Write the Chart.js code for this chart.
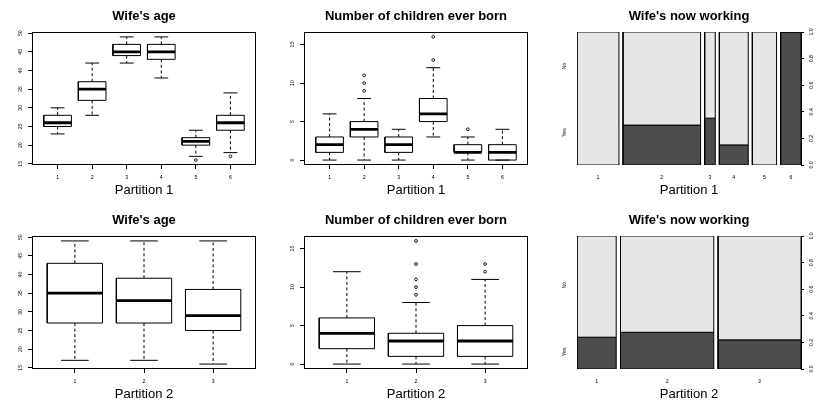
<!DOCTYPE html>
<html><head><meta charset="utf-8">
<script src="https://cdn.jsdelivr.net/npm/chart.js@4.4.0/dist/chart.umd.min.js"></script>
<style>
html,body{margin:0;padding:0;background:#fff;width:817px;height:409px;overflow:hidden}
.p{position:absolute;width:272px;height:204px}
canvas{display:block}
</style></head><body>
<div class="p" style="left:0;top:0"><canvas id="c1" width="272" height="204"></canvas></div>
<div class="p" style="left:272px;top:0"><canvas id="c2" width="272" height="204"></canvas></div>
<div class="p" style="left:545px;top:0"><canvas id="c3" width="272" height="204"></canvas></div>
<div class="p" style="left:0;top:204px"><canvas id="c4" width="272" height="204"></canvas></div>
<div class="p" style="left:272px;top:204px"><canvas id="c5" width="272" height="204"></canvas></div>
<div class="p" style="left:545px;top:204px"><canvas id="c6" width="272" height="204"></canvas></div>
<script>
// ---------- data ----------
const part1Cats = ['1','2','3','4','5','6'];
const part2Cats = ['1','2','3'];
const ageTicks = [15,20,25,30,35,40,45,50];
const childTicks = [0,5,10,15];
const propTicks = [0,0.2,0.4,0.6,0.8,1.0];
const workLevels = ['Yes','No'];

// Partition 1 - Wife's age
const age1Lo  = [23,28,42,38,17,18];
const age1Q1  = [25,32,44,43,20,24];
const age1Med = [26,35,45,45,21,26];
const age1Q3  = [28,37,47,47,22,28];
const age1Hi  = [30,42,49,49,24,34];
const age1Out = [[],[],[],[],[16],[17]];

// Partition 1 - Number of children ever born
const kids1Lo  = [0,0,0,3,0,0];
const kids1Q1  = [1,3,1,5,1,0];
const kids1Med = [2,4,2,6,1,1];
const kids1Q3  = [3,5,3,8,2,2];
const kids1Hi  = [6,8,4,12,3,4];
const kids1Out = [[],[9,10,11],[],[13,16],[4],[]];

// Partition 1 - Wife's now working (spineplot)
const work1Width = [0.206,0.381,0.052,0.142,0.119,0.100];
const work1Yes   = [0,0.30,0.352,0.151,0,1.0];
const work1LabelAt = [0.245,0.745];

// Partition 2 - Wife's age
const age2Lo  = [17,17,16];
const age2Q1  = [27,27,25];
const age2Med = [35,33,29];
const age2Q3  = [43,39,36];
const age2Hi  = [49,49,49];
const age2Out = [[],[],[]];

// Partition 2 - Number of children ever born
const kids2Lo  = [0,0,0];
const kids2Q1  = [2,1,1];
const kids2Med = [4,3,3];
const kids2Q3  = [6,4,5];
const kids2Hi  = [12,8,11];
const kids2Out = [[],[9,10,11,13,16],[12,13]];

// Partition 2 - Wife's now working (spineplot)
const work2Width = [0.182,0.433,0.385];
const work2Yes   = [0.239,0.276,0.219];
const work2LabelAt = [0.13,0.63];

// ---------- styling helpers ----------
const FONT = "'Liberation Sans', Arial, Helvetica, sans-serif";
Chart.defaults.color = '#000';
Chart.defaults.font.family = FONT;

const framePlugin = {
  id: 'frame',
  afterDatasetsDraw(chart, args, opts) {
    if (!opts || !opts.on) return;
    const a = chart.chartArea, c = chart.ctx;
    c.save();
    c.strokeStyle = '#000'; c.lineWidth = 1;
    c.strokeRect(Math.round(a.left)+0.5, Math.round(a.top)+0.5,
                 Math.round(a.right)-Math.round(a.left)-1, Math.round(a.bottom)-Math.round(a.top)-1);
    c.restore();
  }
};

function titleOpts(text) {
  return { display: true, text, color: '#000', fullSize: false,
    font: { size: 13, weight: 'bold', family: FONT },
    padding: { top: 8.4, bottom: 8 } };
}

function boxChart(id, title, xTitle, cats, yTicks, yMin, yMax, lo, q1, med, q3, hi, out) {
  const box = [], meds = [], wh = [], caps = [], outs = [];
  const gap = x => ({ x, y: null });
  const hw = 0.4, sw = 0.2;
  for (let i = 0; i < cats.length; i++) {
    const x = i + 1;
    box.push({x:x-hw,y:q1[i]},{x:x+hw,y:q1[i]},{x:x+hw,y:q3[i]},{x:x-hw,y:q3[i]},{x:x-hw,y:q1[i]},gap(x));
    meds.push({x:x-hw,y:med[i]},{x:x+hw,y:med[i]},gap(x));
    wh.push({x,y:q3[i]},{x,y:hi[i]},gap(x),{x,y:q1[i]},{x,y:lo[i]},gap(x));
    caps.push({x:x-sw,y:hi[i]},{x:x+sw,y:hi[i]},gap(x),{x:x-sw,y:lo[i]},{x:x+sw,y:lo[i]},gap(x));
    out[i].forEach(v => outs.push({ x, y: v }));
  }
  const lineDs = (data, w, dash) => ({ data, borderColor: '#000', borderWidth: w, borderDash: dash || [],
    pointRadius: 0, fill: false, tension: 0, spanGaps: false, borderCapStyle: 'butt', borderJoinStyle: 'miter' });
  const n = cats.length, pad = 0.5 + 0.04 * n;
  new Chart(document.getElementById(id), {
    type: 'line',
    data: { datasets: [
      lineDs(meds, 2.8),
      lineDs(box, 1),
      lineDs(caps, 1),
      lineDs(wh, 1, [3, 2.5]),
      { data: outs, showLine: false, pointRadius: 1.4, pointBorderWidth: 0.9, pointBorderColor: '#000',
        pointBackgroundColor: 'rgba(0,0,0,0)', pointStyle: 'circle' }
    ]},
    options: {
      responsive: false, animation: false, events: [],
      layout: { padding: { left: 0, right: 16, top: 0, bottom: 0 } },
      plugins: { legend: { display: false }, tooltip: { enabled: false }, title: titleOpts(title), frame: { on: true } },
      scales: {
        x: { type: 'linear', min: 1 - pad, max: n + pad,
          afterBuildTicks: s => { s.ticks = cats.map((c, i) => ({ value: i + 1 })); },
          afterFit: s => { s.height = 39; },
          ticks: { autoSkip: false, maxRotation: 0, minRotation: 0, padding: 5.5, font: { size: 5.2 }, color: '#000',
            callback: v => cats[Math.round(v) - 1] },
          grid: { display: true, drawOnChartArea: false, drawTicks: true, tickLength: 4, color: '#000', lineWidth: 1 },
          border: { display: false },
          title: { display: true, text: xTitle, color: '#000', font: { size: 13, family: FONT }, padding: { top: 0, bottom: 5.7 } }
        },
        y: { type: 'linear', min: yMin, max: yMax,
          afterBuildTicks: s => { s.ticks = yTicks.map(v => ({ value: v })); },
          afterFit: s => { s.width = 32; },
          ticks: { autoSkip: false, minRotation: 90, maxRotation: 90, crossAlign: 'center', padding: 4.8,
            font: { size: 5.2 }, color: '#000', callback: v => String(v) },
          grid: { display: true, drawOnChartArea: false, drawTicks: true, tickLength: 4, color: '#000', lineWidth: 1 },
          border: { display: false }
        }
      }
    },
    plugins: [framePlugin]
  });
}

function spineChart(id, title, xTitle, cats, widths, yes, labelAt) {
  const off = 0.02;
  const total = widths.reduce((a, b) => a + b, 0) + off * (widths.length - 1);
  const centers = [];
  const ds = [];
  let x0 = 0;
  for (let i = 0; i < widths.length; i++) {
    const x1 = x0 + widths[i];
    centers.push((x0 + x1) / 2);
    const p = yes[i];
    ds.push({ data: [{x:x0,y:p},{x:x1,y:p},{x:x1,y:1},{x:x0,y:1},{x:x0,y:p}],
      borderColor: '#000', borderWidth: 1, backgroundColor: '#E6E6E6', fill: 'shape', pointRadius: 0, tension: 0, borderJoinStyle: 'miter' });
    ds.push({ data: [{x:x0,y:0},{x:x1,y:0},{x:x1,y:p},{x:x0,y:p},{x:x0,y:0}],
      borderColor: '#000', borderWidth: 1, backgroundColor: '#4D4D4D', fill: 'shape', pointRadius: 0, tension: 0, borderJoinStyle: 'miter' });
    x0 = x1 + off;
  }
  new Chart(document.getElementById(id), {
    type: 'line',
    data: { datasets: ds },
    options: {
      responsive: false, animation: false, events: [],
      layout: { padding: 0 },
      plugins: { legend: { display: false }, tooltip: { enabled: false }, title: titleOpts(title), frame: { on: false } },
      scales: {
        x: { type: 'linear', min: 0, max: total,
          afterBuildTicks: s => { s.ticks = centers.map(v => ({ value: v })); },
          afterFit: s => { s.height = 39; },
          ticks: { autoSkip: false, maxRotation: 0, minRotation: 0, padding: 9.5, font: { size: 5.2 }, color: '#000',
            callback: (v, i) => cats[i] },
          grid: { display: false, drawTicks: false },
          border: { display: false },
          title: { display: true, text: xTitle, color: '#000', font: { size: 13, family: FONT }, padding: { top: 0, bottom: 5.7 } }
        },
        y: { type: 'linear', position: 'left', min: 0, max: 1,
          afterBuildTicks: s => { s.ticks = labelAt.map(v => ({ value: v })); },
          afterFit: s => { s.width = 32; },
          ticks: { autoSkip: false, minRotation: 90, maxRotation: 90, crossAlign: 'center', padding: 8.6,
            font: { size: 5.2 }, color: '#000', callback: (v, i) => workLevels[i] },
          grid: { display: false, drawTicks: false },
          border: { display: false }
        },
        y2: { type: 'linear', position: 'right', min: 0, max: 1,
          afterBuildTicks: s => { s.ticks = propTicks.map(v => ({ value: v })); },
          afterFit: s => { s.width = 16; },
          ticks: { autoSkip: false, minRotation: 90, maxRotation: 90, crossAlign: 'center', padding: 4.2,
            font: { size: 5.2 }, color: '#000', callback: v => v.toFixed(1) },
          grid: { display: true, drawOnChartArea: false, drawTicks: true, tickLength: 3, color: '#000', lineWidth: 1 },
          border: { display: true, color: '#000' }
        }
      }
    }
  });
}

boxChart('c1', "Wife's age", 'Partition 1', part1Cats, ageTicks, 14.68, 50.32, age1Lo, age1Q1, age1Med, age1Q3, age1Hi, age1Out);
boxChart('c2', 'Number of children ever born', 'Partition 1', part1Cats, childTicks, -0.64, 16.64, kids1Lo, kids1Q1, kids1Med, kids1Q3, kids1Hi, kids1Out);
spineChart('c3', "Wife's now working", 'Partition 1', part1Cats, work1Width, work1Yes, work1LabelAt);
boxChart('c4', "Wife's age", 'Partition 2', part2Cats, ageTicks, 14.68, 50.32, age2Lo, age2Q1, age2Med, age2Q3, age2Hi, age2Out);
boxChart('c5', 'Number of children ever born', 'Partition 2', part2Cats, childTicks, -0.64, 16.64, kids2Lo, kids2Q1, kids2Med, kids2Q3, kids2Hi, kids2Out);
spineChart('c6', "Wife's now working", 'Partition 2', part2Cats, work2Width, work2Yes, work2LabelAt);
</script>
</body></html>
